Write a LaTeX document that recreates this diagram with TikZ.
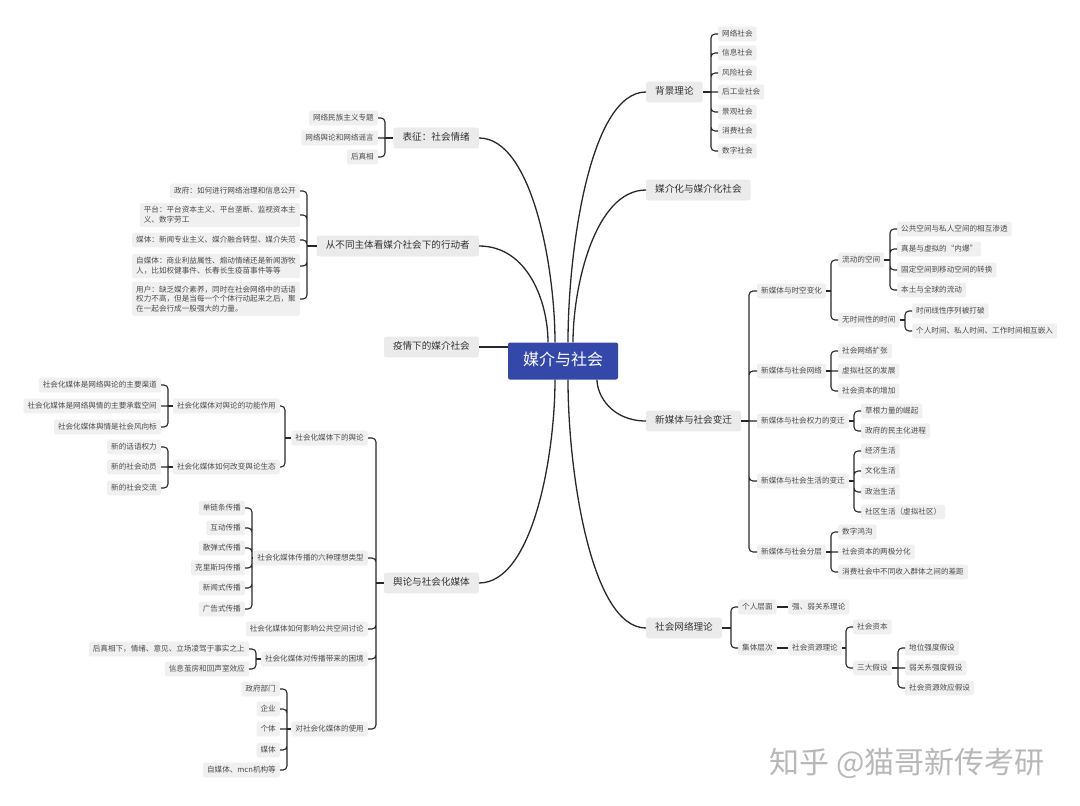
\documentclass[tikz,border=0pt]{standalone}
\usepackage{fontspec}
\setmainfont{Noto Sans CJK SC}
\usepackage{xcolor}
\usepackage{tikz}
\usetikzlibrary{calc}
\definecolor{rootblue}{RGB}{52,72,170}
\definecolor{linkgray}{RGB}{40,40,40}
\tikzset{
    root/.style={fill=rootblue, rounded corners=2pt, text=white, font=\fontsize{16}{16}\selectfont, inner xsep=15pt, inner ysep=10.5pt, text height=12.8pt, text depth=3.2pt},
    topic/.style={fill=black!8, rounded corners=2pt, text=black!80, font=\fontsize{9.6}{9.6}\selectfont, inner xsep=9pt, inner ysep=5.5pt, text height=7.7pt, text depth=1.9pt},
    leaf/.style={fill=black!6, rounded corners=1.5pt, text=black!70, font=\fontsize{7.6}{7.6}\selectfont, inner xsep=4pt, inner ysep=3.5pt, text height=6.1pt, text depth=1.5pt},
    note/.style={fill=black!6, rounded corners=1.5pt, text=black!70, font=\fontsize{7.6}{9.8}\selectfont, inner xsep=4pt, inner ysep=3.5pt, align=left},
    link/.style={draw=linkgray, line width=1.3pt},
    fan/.style={draw=linkgray, line width=1.1pt, rounded corners=4pt}}
\begin{document}
\begin{tikzpicture}[x=1pt, y=-1pt]
\fill[white] (0,0) rectangle (1080,806);
\useasboundingbox (0,0) rectangle (1080,806);
\node[root] (mid) at (563,361) {媒介与社会};

%main topics
\node[topic, anchor=west] (bj) at (646,92) {背景理论};
\node[topic, anchor=west] (mj) at (646,190) {媒介化与媒介化社会};
\node[topic, anchor=west] (xm) at (646,421) {新媒体与社会变迁};
\node[topic, anchor=west] (sw) at (646,628) {社会网络理论};
\node[topic, anchor=east] (bz) at (479,138) {表征：社会情绪};
\node[topic, anchor=east] (xd) at (479,246) {从不同主体看媒介社会下的行动者};
\node[topic, anchor=east] (yq) at (479,347) {疫情下的媒介社会};
\node[topic, anchor=east] (yl) at (479,583) {舆论与社会化媒体};

\draw[link] ([xshift=5pt]mid.north) .. controls +(0,-92) and +(-56,0) .. (bj.west);
\draw[link] ([xshift=10pt]mid.north) .. controls +(0,-56) and +(-51,0) .. (mj.west);
\draw[link] ([xshift=-8pt]mid.north) .. controls +(0,-75) and +(53,0) .. (bz.east);
\draw[link] ([xshift=-15pt]mid.north) .. controls +(0,-40) and +(49,0) .. (xd.east);
\draw[link] (yq.east) -- (yq.east -| mid.west);
\draw[link] ([xshift=34pt]mid.south) .. controls +(0,16) and +(-34,0) .. (xm.west);
\draw[link] ([xshift=-8pt]mid.south) .. controls +(0,75) and +(54,0) .. (yl.east);
\draw[link] ([xshift=5pt]mid.south) .. controls +(0,92) and +(-55,0) .. (sw.west);

%right side: background
\coordinate (bjk) at (711,92);
\node[leaf, anchor=west] (bj1) at (718,34) {网络社会};
\node[leaf, anchor=west] (bj2) at (718,53) {信息社会};
\node[leaf, anchor=west] (bj3) at (718,73) {风险社会};
\node[leaf, anchor=west] (bj4) at (718,92) {后工业社会};
\node[leaf, anchor=west] (bj5) at (718,112) {景观社会};
\node[leaf, anchor=west] (bj6) at (718,131) {消费社会};
\node[leaf, anchor=west] (bj7) at (718,151) {数字社会};
\draw[fan] (bj.east) -- (bjk);
\draw[fan] (bjk) |- (bj1.west) (bjk) |- (bj2.west) (bjk) |- (bj3.west) (bjk) -- (bj4.west)
  (bjk) |- (bj5.west) (bjk) |- (bj6.west) (bjk) |- (bj7.west);

%right side: new media
\coordinate (xmk) at (749,421);
\node[leaf, anchor=west] (xm1) at (757,291) {新媒体与时空变化};
\node[leaf, anchor=west] (xm2) at (757,371) {新媒体与社会网络};
\node[leaf, anchor=west] (xm3) at (757,421) {新媒体与社会权力的变迁};
\node[leaf, anchor=west] (xm4) at (757,481) {新媒体与社会生活的变迁};
\node[leaf, anchor=west] (xm5) at (757,552) {新媒体与社会分层};
\draw[fan] (xm.east) -- (xmk);
\draw[fan] (xmk) |- (xm1.west) (xmk) |- (xm2.west) (xmk) -- (xm3.west) (xmk) |- (xm4.west) (xmk) |- (xm5.west);

\coordinate (xm1k) at (831,291);
\node[leaf, anchor=west] (xm11) at (838,260) {流动的空间};
\node[leaf, anchor=west] (xm12) at (838,320) {无时间性的时间};
\draw[fan] (xm1.east) -- (xm1k);
\draw[fan] (xm1k) |- (xm11.west) (xm1k) |- (xm12.west);

\coordinate (xm11k) at (890,260);
\node[leaf, anchor=west] (xm111) at (897,229) {公共空间与私人空间的相互渗透};
\node[leaf, anchor=west] (xm112) at (897,249) {真是与虚拟的“内爆”};
\node[leaf, anchor=west] (xm113) at (897,270) {固定空间到移动空间的转换};
\node[leaf, anchor=west] (xm114) at (897,290) {本土与全球的流动};
\draw[fan] (xm11.east) -- (xm11k);
\draw[fan] (xm11k) |- (xm111.west) (xm11k) |- (xm112.west) (xm11k) |- (xm113.west) (xm11k) |- (xm114.west);

\coordinate (xm12k) at (905,320);
\node[leaf, anchor=west] (xm121) at (912,311) {时间线性序列被打破};
\node[leaf, anchor=west] (xm122) at (912,331) {个人时间、私人时间、工作时间相互嵌入};
\draw[fan] (xm12.east) -- (xm12k);
\draw[fan] (xm12k) |- (xm121.west) (xm12k) |- (xm122.west);

\coordinate (xm2k) at (831,371);
\node[leaf, anchor=west] (xm21) at (838,351) {社会网络扩张};
\node[leaf, anchor=west] (xm22) at (838,371) {虚拟社区的发展};
\node[leaf, anchor=west] (xm23) at (838,391) {社会资本的增加};
\draw[fan] (xm2.east) -- (xm2k);
\draw[fan] (xm2k) |- (xm21.west) (xm2k) -- (xm22.west) (xm2k) |- (xm23.west);

\coordinate (xm3k) at (854,421);
\node[leaf, anchor=west] (xm31) at (861,411) {草根力量的崛起};
\node[leaf, anchor=west] (xm32) at (861,431) {政府的民主化进程};
\draw[fan] (xm3.east) -- (xm3k);
\draw[fan] (xm3k) |- (xm31.west) (xm3k) |- (xm32.west);

\coordinate (xm4k) at (854,481);
\node[leaf, anchor=west] (xm41) at (861,451) {经济生活};
\node[leaf, anchor=west] (xm42) at (861,471) {文化生活};
\node[leaf, anchor=west] (xm43) at (861,492) {政治生活};
\node[leaf, anchor=west] (xm44) at (861,512) {社区生活（虚拟社区）};
\draw[fan] (xm4.east) -- (xm4k);
\draw[fan] (xm4k) |- (xm41.west) (xm4k) |- (xm42.west) (xm4k) |- (xm43.west) (xm4k) |- (xm44.west);

\coordinate (xm5k) at (831,552);
\node[leaf, anchor=west] (xm51) at (838,532) {数字鸿沟};
\node[leaf, anchor=west] (xm52) at (838,552) {社会资本的两极分化};
\node[leaf, anchor=west] (xm53) at (838,572) {消费社会中不同收入群体之间的差距};
\draw[fan] (xm5.east) -- (xm5k);
\draw[fan] (xm5k) |- (xm51.west) (xm5k) -- (xm52.west) (xm5k) |- (xm53.west);

%right side: social network
\coordinate (swk) at (731,628);
\node[leaf, anchor=west] (sw1) at (738,607) {个人层面};
\node[leaf, anchor=west] (sw2) at (738,648) {集体层次};
\node[leaf, anchor=west] (sw11) at (788,607) {强、弱关系理论};
\node[leaf, anchor=west] (sw21) at (788,648) {社会资源理论};
\draw[fan] (sw.east) -- (swk);
\draw[fan] (swk) |- (sw1.west) (swk) |- (sw2.west);
\draw[fan] (sw1) -- (sw11);
\draw[fan] (sw2) -- (sw21);

\coordinate (sw21k) at (846,648);
\node[leaf, anchor=west] (sw211) at (853,627) {社会资本};
\node[leaf, anchor=west] (sw212) at (853,668) {三大假设};
\draw[fan] (sw21.east) -- (sw21k);
\draw[fan] (sw21k) |- (sw211.west) (sw21k) |- (sw212.west);

\coordinate (sw212k) at (898,668);
\node[leaf, anchor=west] (sw2121) at (905,648) {地位强度假设};
\node[leaf, anchor=west] (sw2122) at (905,668) {弱关系强度假设};
\node[leaf, anchor=west] (sw2123) at (905,688) {社会资源效应假设};
\draw[fan] (sw212.east) -- (sw212k);
\draw[fan] (sw212k) |- (sw2121.west) (sw212k) -- (sw2122.west) (sw212k) |- (sw2123.west);

%left side: emotion
\coordinate (bzk) at (385,138);
\node[leaf, anchor=east] (bz1) at (378,118) {网络民族主义专题};
\node[leaf, anchor=east] (bz2) at (378,138) {网络舆论和网络谣言};
\node[leaf, anchor=east] (bz3) at (378,157) {后真相};
\draw[fan] (bz.west) -- (bzk);
\draw[fan] (bzk) |- (bz1.east) (bzk) -- (bz2.east) (bzk) |- (bz3.east);

%left side: actors
\coordinate (xdk) at (307,246);
\node[leaf, anchor=east] (xd1) at (300,191) {政府：如何进行网络治理和信息公开};
\node[note, anchor=east] (xd2) at (300,215) {平台：平台资本主义、平台垄断、监视资本主\\义、数字劳工};
\node[leaf, anchor=east] (xd3) at (300,240) {媒体：新闻专业主义、媒介融合转型、媒介失范};
\node[note, anchor=east] (xd4) at (300,266) {自媒体：商业利益属性、煽动情绪还是新闻游牧\\人，比如权健事件、长春长生疫苗事件等等};
\node[note, anchor=east] (xd5) at (300,299) {用户：缺乏媒介素养，同时在社会网络中的话语\\权力不高，但是当每一个个体行动起来之后，聚\\在一起会行成一股强大的力量。};
\draw[fan] (xd.west) -- (xdk);
\draw[fan] (xdk) |- (xd1.east) (xdk) |- (xd2.east) (xdk) |- (xd3.east) (xdk) |- (xd4.east) (xdk) |- (xd5.east);

%left side: public opinion
\coordinate (ylk) at (376,583);
\node[leaf, anchor=east] (yl1) at (368,438) {社会化媒体下的舆论};
\node[leaf, anchor=east] (yl2) at (368,558) {社会化媒体传播的六种理想类型};
\node[leaf, anchor=east] (yl3) at (368,629) {社会化媒体如何影响公共空间讨论};
\node[leaf, anchor=east] (yl4) at (368,659) {社会化媒体对传播带来的困境};
\node[leaf, anchor=east] (yl5) at (368,729) {对社会化媒体的使用};
\draw[fan] (yl.west) -- (ylk);
\draw[fan] (ylk) |- (yl1.east) (ylk) |- (yl2.east) (ylk) |- (yl3.east) (ylk) |- (yl4.east) (ylk) |- (yl5.east);

\coordinate (yl1k) at (285,438);
\node[leaf, anchor=east] (yl11) at (280,406) {社会化媒体对舆论的功能作用};
\node[leaf, anchor=east] (yl12) at (280,467) {社会化媒体如何改变舆论生态};
\draw[fan] (yl1.west) -- (yl1k);
\draw[fan] (yl1k) |- (yl11.east) (yl1k) |- (yl12.east);

\coordinate (yl11k) at (168,406);
\node[leaf, anchor=east] (yl111) at (161,385) {社会化媒体是网络舆论的主要渠道};
\node[leaf, anchor=east] (yl112) at (161,406) {社会化媒体是网络舆情的主要承载空间};
\node[leaf, anchor=east] (yl113) at (161,427) {社会化媒体舆情是社会风向标};
\draw[fan] (yl11.west) -- (yl11k);
\draw[fan] (yl11k) |- (yl111.east) (yl11k) -- (yl112.east) (yl11k) |- (yl113.east);

\coordinate (yl12k) at (168,467);
\node[leaf, anchor=east] (yl121) at (161,447) {新的话语权力};
\node[leaf, anchor=east] (yl122) at (161,467) {新的社会动员};
\node[leaf, anchor=east] (yl123) at (161,488) {新的社会交流};
\draw[fan] (yl12.west) -- (yl12k);
\draw[fan] (yl12k) |- (yl121.east) (yl12k) -- (yl122.east) (yl12k) |- (yl123.east);

\coordinate (yl2k) at (252,558);
\node[leaf, anchor=east] (yl21) at (245,508) {单链条传播};
\node[leaf, anchor=east] (yl22) at (245,528) {互动传播};
\node[leaf, anchor=east] (yl23) at (245,548) {散弹式传播};
\node[leaf, anchor=east] (yl24) at (245,568) {克里斯玛传播};
\node[leaf, anchor=east] (yl25) at (245,588) {新闻式传播};
\node[leaf, anchor=east] (yl26) at (245,609) {广告式传播};
\draw[fan] (yl2.west) -- (yl2k);
\draw[fan] (yl2k) |- (yl21.east) (yl2k) |- (yl22.east) (yl2k) |- (yl23.east)
  (yl2k) |- (yl24.east) (yl2k) |- (yl25.east) (yl2k) |- (yl26.east);

\coordinate (yl4k) at (256,659);
\node[leaf, anchor=east] (yl41) at (249,649) {后真相下，情绪、意见、立场凌驾于事实之上};
\node[leaf, anchor=east] (yl42) at (249,669) {信息茧房和回声室效应};
\draw[fan] (yl4.west) -- (yl4k);
\draw[fan] (yl4k) |- (yl41.east) (yl4k) |- (yl42.east);

\coordinate (yl5k) at (287,729);
\node[leaf, anchor=east] (yl51) at (280,689) {政府部门};
\node[leaf, anchor=east] (yl52) at (280,709) {企业};
\node[leaf, anchor=east] (yl53) at (280,729) {个体};
\node[leaf, anchor=east] (yl54) at (280,750) {媒体};
\node[leaf, anchor=east] (yl55) at (280,770) {自媒体、mcn机构等};
\draw[fan] (yl5.west) -- (yl5k);
\draw[fan] (yl5k) |- (yl51.east) (yl5k) |- (yl52.east) (yl5k) -- (yl53.east) (yl5k) |- (yl54.east) (yl5k) |- (yl55.east);

%watermark
\node[text=black!28, font=\fontsize{30}{30}\selectfont] (zh) at (907,763) {知乎 @猫哥新传考研};
\end{tikzpicture}
\end{document}
